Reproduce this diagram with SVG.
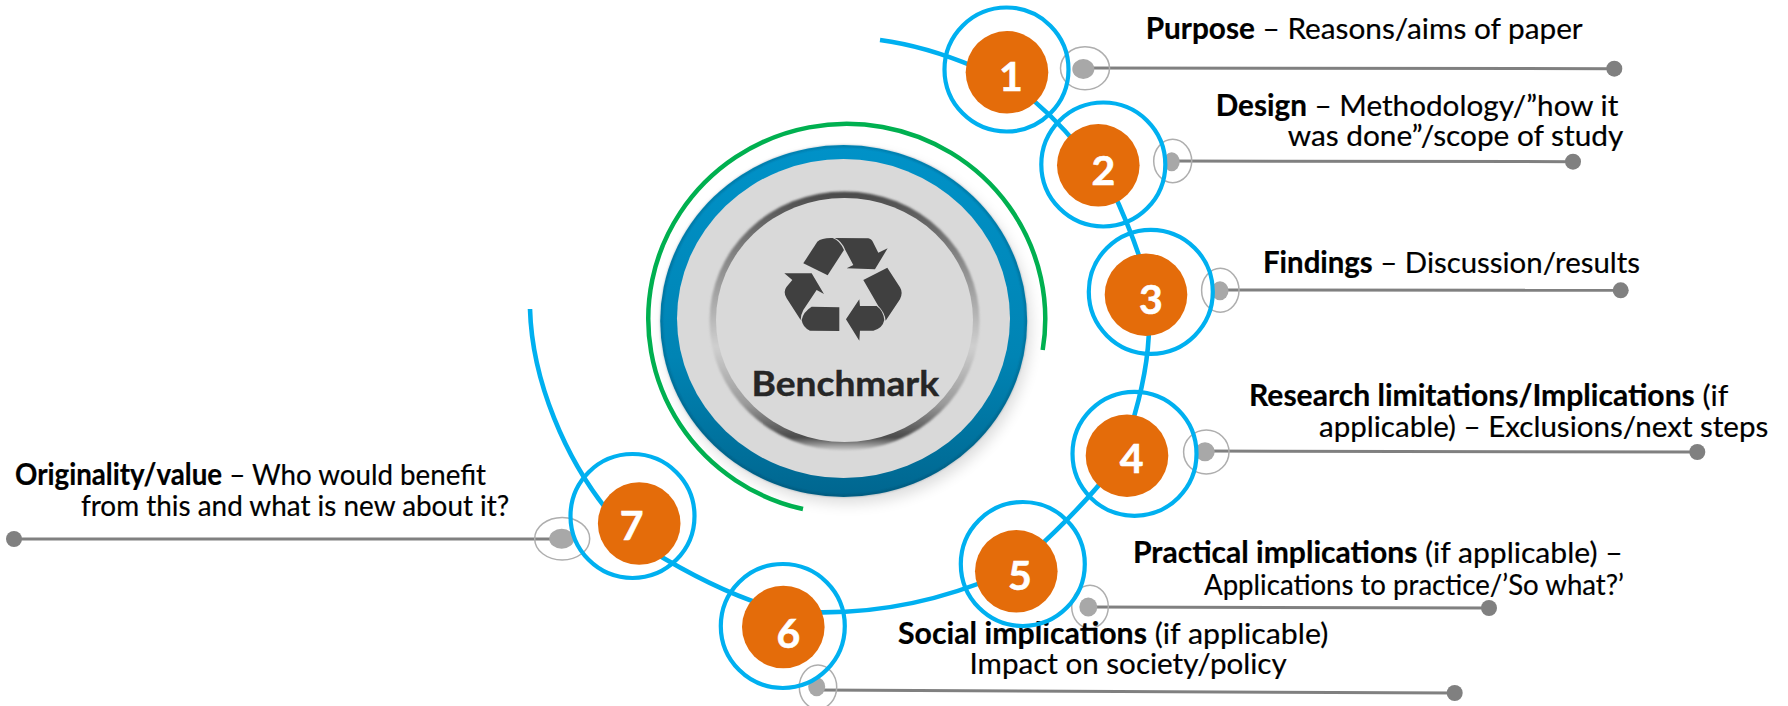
<svg xmlns="http://www.w3.org/2000/svg" width="1788" height="706" viewBox="0 0 1788 706">
<style>
.t{font-family:"Lato","Liberation Sans",sans-serif;font-size:29.5px;fill:#000;stroke:#000;stroke-width:.2}
.b{font-weight:700}
.n{font-family:"Lato","Liberation Sans",sans-serif;font-size:41px;font-weight:700;fill:#fff;stroke:#fff;stroke-width:.6;text-anchor:middle}
.ring{fill:none;stroke:#00b0f0;stroke-width:4.2}
.core{fill:#e46c0a}
.sp{fill:none;stroke:#00b0f0;stroke-width:4.6;stroke-linecap:butt}
.lead{fill:none;stroke:#808080;stroke-width:3}
.halo{fill:none;stroke:#aeaeae;stroke-width:1.5}
.dot{fill:#a8a8a8}
.end{fill:#808080}
</style>
<defs>
<linearGradient id="blue" x1="0" y1="0" x2="0" y2="1"><stop offset="0" stop-color="#0092c8"/><stop offset=".6" stop-color="#0084b4"/><stop offset="1" stop-color="#00668f"/></linearGradient>
<linearGradient id="rim" x1="0" y1="0" x2="0" y2="1"><stop offset="0" stop-color="#4a4a4a"/><stop offset=".3" stop-color="#8f8f8f"/><stop offset=".6" stop-color="#cfcfcf"/><stop offset=".82" stop-color="#9a9a9a"/><stop offset=".95" stop-color="#4a4a4a"/><stop offset="1" stop-color="#cfcfcf"/></linearGradient>
<filter id="blur" x="-20%" y="-20%" width="140%" height="140%"><feGaussianBlur stdDeviation="7"/></filter>
<filter id="soft" x="-10%" y="-10%" width="120%" height="120%"><feGaussianBlur stdDeviation="1.2"/></filter>
</defs>

<g id="connectors">
<path class="sp" d="M880,40 Q925,46 975,67"/>
<path class="sp" d="M1020,90 Q1050,112 1080,148"/>
<path class="sp" d="M1110,185 Q1132,232 1142,265"/>
<path class="sp" d="M1149,325 Q1149,370 1130,430"/>
<path class="sp" d="M1115,465 Q1085,505 1030,555"/>
<path class="sp" d="M1000,575 Q905,616 805,612"/>
<path class="sp" d="M770,607 Q715,590 650,550"/>
<path class="sp" d="M530,309 C532,380 565,460 612,516"/>
<path class="lead" d="M1083,68 L1614,68.7"/>
<path class="lead" d="M1172,161 L1573,161.7"/>
<path class="lead" d="M1220,290 L1621,290.3"/>
<path class="lead" d="M1205,451 L1697,452"/>
<path class="lead" d="M1088,607 L1489,608"/>
<path class="lead" d="M817,690 L1455,693"/>
<path class="lead" d="M14,539 L562,539"/>
</g>

<g id="center">
<ellipse cx="848" cy="328" rx="183" ry="176" fill="#000" opacity=".13" filter="url(#blur)"/>
<path d="M1042.7,350 A198.5,195 0 1 0 803,509" fill="none" stroke="#00b050" stroke-width="4.5"/>
<ellipse cx="843.7" cy="321" rx="183.5" ry="176" fill="url(#blue)"/>
<ellipse cx="843.7" cy="321" rx="182.5" ry="175" fill="none" stroke="#00394f" stroke-opacity=".4" stroke-width="1.6" filter="url(#soft)"/>
<ellipse cx="843.5" cy="318.5" rx="166.5" ry="159.5" fill="#d9d9d9"/>
<ellipse cx="844.5" cy="321" rx="135" ry="129.5" fill="url(#rim)" filter="url(#soft)"/>
<ellipse cx="844.5" cy="320" rx="128.5" ry="122" fill="#d9d9d9"/>
<g transform="translate(560,90) scale(.3333)" fill="#404040">
<path d="M730,520 L772,455 Q785,443 818,444 Q840,452 852,480 L803,556 Z"/>
<path d="M824,444 L925,445 Q934,446 940,458 L955,488 L983,475 L945,538 L860,535 L880,525 L856,480 Q845,452 824,444 Z"/>
<path d="M910,570 L982,533 L1020,592 Q1030,608 1020,628 L977,692 Q975,668 955,648 Z"/>
<path d="M858,688 L898,628 L900,648 L950,648 Q970,662 973,690 Q968,715 940,722 L900,722 L898,752 Z"/>
<path d="M673,550 L755,550 L792,612 L770,600 L730,660 Q722,675 722,690 L680,625 Q668,605 680,590 L697,570 Z"/>
<path d="M838,652 L755,650 Q730,665 725,690 Q728,712 750,722 L838,723 Z"/>
</g>
<text x="751.5" y="396" font-family="Lato,'Liberation Sans',sans-serif" font-size="35" font-weight="700" fill="#262626" stroke="#262626" stroke-width=".4" textLength="187.5" lengthAdjust="spacingAndGlyphs">Benchmark</text>
</g>

<g id="label1">
<ellipse class="halo" cx="1085" cy="68.3" rx="24.5" ry="21.5"/><ellipse class="dot" cx="1083.3" cy="69" rx="11" ry="10"/><circle class="end" cx="1614.3" cy="68.7" r="8"/>
<text class="t" x="1145.7" y="38.5" textLength="437" lengthAdjust="spacingAndGlyphs"><tspan class="b">Purpose</tspan> – Reasons/aims of paper</text>
</g>
<g id="label2">
<ellipse class="halo" cx="1172.7" cy="161" rx="19" ry="21.7"/><ellipse class="dot" cx="1171.7" cy="161.7" rx="8" ry="9.5"/><circle class="end" cx="1573" cy="161.7" r="8"/>
<text class="t" x="1215.7" y="115.7" textLength="402.6" lengthAdjust="spacingAndGlyphs"><tspan class="b">Design</tspan> – Methodology/”how it</text>
<text class="t" x="1287.7" y="145.7" textLength="335.6" lengthAdjust="spacingAndGlyphs">was done”/scope of study</text>
</g>
<g id="label3">
<ellipse class="halo" cx="1220.3" cy="290.3" rx="18.7" ry="22"/><ellipse class="dot" cx="1220" cy="290.7" rx="8.5" ry="9.5"/><circle class="end" cx="1620.7" cy="290.3" r="8"/>
<text class="t" x="1263" y="272.7" textLength="377" lengthAdjust="spacingAndGlyphs"><tspan class="b">Findings</tspan> – Discussion/results</text>
</g>
<g id="label4">
<ellipse class="halo" cx="1206.3" cy="452" rx="22.7" ry="22"/><ellipse class="dot" cx="1205" cy="451.7" rx="9.7" ry="9.5"/><circle class="end" cx="1697.3" cy="452" r="8"/>
<text class="t" x="1249" y="405.7" textLength="479.3" lengthAdjust="spacingAndGlyphs"><tspan class="b">Research limitations/Implications</tspan> (if</text>
<text class="t" x="1319" y="436.7" textLength="449.3" lengthAdjust="spacingAndGlyphs">applicable) – Exclusions/next steps</text>
</g>
<g id="label5">
<ellipse class="halo" cx="1090" cy="606.7" rx="18.3" ry="21.5"/><ellipse class="dot" cx="1088.3" cy="607" rx="9" ry="9.5"/><circle class="end" cx="1489" cy="608" r="8"/>
<text class="t" x="1133" y="563.3" textLength="489.6" lengthAdjust="spacingAndGlyphs"><tspan class="b">Practical implications</tspan> (if applicable) –</text>
<text class="t" x="1204" y="595" textLength="420" lengthAdjust="spacingAndGlyphs">Applications to practice/’So what?’</text>
</g>
<g id="label6">
<ellipse class="halo" cx="818" cy="687" rx="18.7" ry="22"/><ellipse class="dot" cx="816.7" cy="686.7" rx="8.5" ry="9.5"/><circle class="end" cx="1454.7" cy="693" r="8"/>
<text class="t" x="898" y="643.7" textLength="430.3" lengthAdjust="spacingAndGlyphs"><tspan class="b">Social implications</tspan> (if applicable)</text>
<text class="t" x="969.5" y="674.3" textLength="317.2" lengthAdjust="spacingAndGlyphs">Impact on society/policy</text>
</g>
<g id="label7">
<ellipse class="halo" cx="562.2" cy="538.7" rx="27.5" ry="21.3"/><ellipse class="dot" cx="561.7" cy="538.7" rx="12.5" ry="10"/><circle class="end" cx="14" cy="539" r="8"/>
<text class="t" x="15" y="485" textLength="471" lengthAdjust="spacingAndGlyphs"><tspan class="b">Originality/value</tspan> – Who would benefit</text>
<text class="t" x="81" y="516" textLength="428.3" lengthAdjust="spacingAndGlyphs">from this and what is new about it?</text>
</g>

<g id="node1"><circle class="ring" cx="1006.5" cy="69.5" r="62"/><circle class="core" cx="1007" cy="72.3" r="41.3"/><text class="n" x="1011" y="90.7">1</text></g>
<g id="node2"><circle class="ring" cx="1103.3" cy="164.5" r="62"/><circle class="core" cx="1098.3" cy="165.3" r="41.3"/><text class="n" x="1103.3" y="185">2</text></g>
<g id="node3"><circle class="ring" cx="1150.8" cy="291.8" r="62"/><circle class="core" cx="1146" cy="294.7" r="41.3"/><text class="n" x="1150.8" y="314">3</text></g>
<g id="node4"><circle class="ring" cx="1134.5" cy="453.8" r="62"/><circle class="core" cx="1127" cy="455.7" r="41.3"/><text class="n" x="1131.7" y="473">4</text></g>
<g id="node5"><circle class="ring" cx="1022.8" cy="564" r="62"/><circle class="core" cx="1016.3" cy="571.3" r="41.3"/><text class="n" x="1020" y="590.3">5</text></g>
<g id="node6"><circle class="ring" cx="782.8" cy="626" r="62"/><circle class="core" cx="783.3" cy="627" r="41.3"/><text class="n" x="788.3" y="647.7">6</text></g>
<g id="node7"><circle class="ring" cx="632.5" cy="516" r="62"/><circle class="core" cx="639.2" cy="523.5" r="41.3"/><text class="n" x="631.7" y="540">7</text></g>
</svg>
